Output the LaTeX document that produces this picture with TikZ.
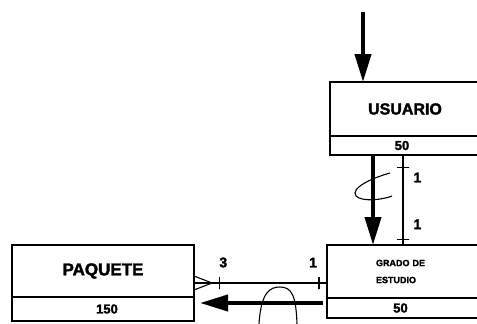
\documentclass[tikz,border=0pt]{standalone}
\usepackage{fontspec}
\setsansfont{Liberation Sans}[BoldFeatures={FakeBold=2}]
\usetikzlibrary{arrows.meta,positioning,calc}

\begin{document}
\begin{tikzpicture}[x=1pt,y=-1pt,
  titlebox/.style={draw, line width=1.4pt, inner sep=0pt, outer sep=0pt, align=center, font=\sffamily\bfseries\fontsize{16}{18}\selectfont},
  countbox/.style={draw, line width=1.4pt, inner sep=0pt, outer sep=0pt, font=\sffamily\bfseries\fontsize{13}{15}\selectfont},
  bigarrow/.style={line width=4pt, -{Triangle[length=28pt,width=16pt]}},
  rel/.style={line width=1.1pt},
  tick/.style={draw, line width=1.1pt, minimum width=0pt, minimum height=12pt, inner sep=0pt, sloped},
  card/.style={inner sep=0pt, font=\sffamily\bfseries\fontsize{14}{16}\selectfont},
  loop/.style={line width=1.1pt}
]
\useasboundingbox (0,0) rectangle (477,324);
\clip (0,0) rectangle (477,324);

\node[titlebox, minimum width=150pt, minimum height=54pt] (usuario) at (405,109) {USUARIO};
\node[countbox, minimum width=150pt, minimum height=19pt, below=0pt of usuario] (usuarioN) {\hspace*{-6pt}50};

\node[titlebox, minimum width=153pt, minimum height=53pt, text width=55pt, align=left,
  font=\sffamily\bfseries\fontsize{9}{17}\selectfont] (grado) at (403.5,271.5) {GRADO DE\\ESTUDIO};
\node[countbox, minimum width=153pt, minimum height=20pt, below=0pt of grado] (gradoN) {\hspace*{-6pt}50};

\node[titlebox, minimum width=182pt, minimum height=52pt, font=\sffamily\bfseries\fontsize{17}{19}\selectfont] (paquete) at (103,271) {PAQUETE};
\node[countbox, minimum width=182pt, minimum height=24pt, below=0pt of paquete] (paqueteN) {\hspace*{8pt}150};

\coordinate (src) at (363,12);
\draw[bigarrow] (src) -- (src |- usuario.north);

\draw[bigarrow] ([xshift=-32pt]usuarioN.south) -- ([xshift=-30.5pt]grado.north);
\draw[rel] ([xshift=-2pt]usuarioN.south) --
  node[tick, pos=0.136] {}
  node[card, pos=0.25, right=10pt] (uno1) {1}
  node[card, pos=0.77, right=10pt] (uno2) {1}
  node[tick, pos=0.943] {}
  ([xshift=-0.5pt]grado.north);

\draw[rel] ([yshift=-12pt]paquete.east) --
  node[tick, pos=0.195] {}
  node[card, pos=0.22, above=15pt] (tres) {3}
  node[card, pos=0.895, above=15pt] (uno3) {1}
  node[tick, pos=0.94] {}
  ([yshift=-11.5pt]grado.west);
\draw[rel] ([yshift=-5pt]paquete.east) -- ([xshift=18pt,yshift=-12pt]paquete.east) -- ([yshift=-19pt]paquete.east);

\draw[bigarrow] ([xshift=-4pt,yshift=5pt]gradoN.west) -- ([xshift=6pt,yshift=6pt]paqueteN.east);

\draw[loop] (390,173) .. controls (372,178) and (350,188) .. (356,196) .. controls (362,202) and (382,200) .. (392,196);
\draw[loop] (259,324) .. controls (261,292) and (270,287) .. (280,287) .. controls (292,287) and (296,296) .. (297,324);
\end{tikzpicture}
\end{document}
